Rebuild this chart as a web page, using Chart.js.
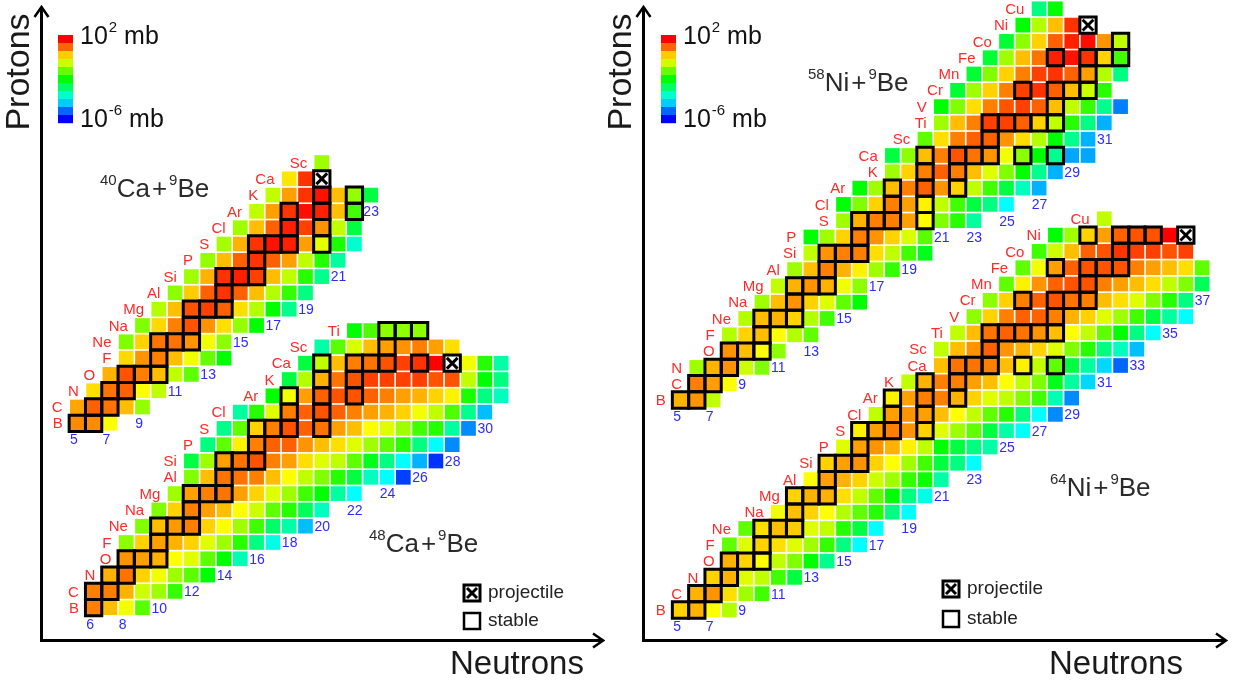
<!DOCTYPE html>
<html><head><meta charset="utf-8">
<script src="https://cdn.jsdelivr.net/npm/chart.js@4.4.1/dist/chart.umd.min.js"></script>
<style>
html,body{margin:0;padding:0;background:#fff;width:1234px;height:681px;overflow:hidden}
#wrap{position:relative;width:1234px;height:681px}
canvas{position:absolute;top:0}
#cL{left:0}
#cR{left:605px}
</style></head>
<body><div id="wrap"><canvas id="cL" width="605" height="681"></canvas><canvas id="cR" width="629" height="681"></canvas></div>
<script>
// ---------------- DATA (log10 of cross-section in mb) ----------------
const SYMBOLS = ['', 'H','He','Li','Be','B','C','N','O','F','Ne','Na','Mg','Al','Si','P','S','Cl','Ar','K','Ca','Sc','Ti','V','Cr','Mn','Fe','Co','Ni','Cu'];

// 40Ca + 9Be
const CA40_TITLE = ['40', 'Ca', '9', 'Be'];
const CA40_FIRST_Z = 5;
const CA40_FIRST_N = [5, 5, 6, 7, 8, 8, 9, 10, 11, 12, 13, 14, 15, 16, 17, 18, 20];
const CA40_LOG_SIGMA = [
  [0.9, 0.9, 0.0],
  [0.7, 1.25, 1.1, 0.5, -0.85],
  [0.25, 1.1, 1.25, 0.0, -0.5],
  [0.6, 1.35, 1.0, 0.5, -0.5, -1.25],
  [0.3, 0.85, 1.0, 0.5, -0.1, -1.2, -2.0],
  [-1.0, 0.35, 1.1, 1.1, 0.85, -0.1, -0.9],
  [-1.0, 0.3, 1.0, 1.35, 0.85, 0.25, -0.85, -2.0],
  [-0.6, 0.5, 1.35, 1.5, 1.25, 0.25, -0.6, -2.0, -3.1],
  [-0.9, 0.4, 1.25, 1.6, 1.25, 0.5, -0.6, -1.6, -3.0],
  [-0.75, 0.6, 1.6, 1.75, 1.5, 0.5, -0.5, -1.7, -3.1],
  [-0.85, 0.5, 1.25, 1.6, 1.25, 0.75, -0.5, -1.7, -3.25],
  [-0.7, 0.6, 1.6, 1.85, 1.75, 0.75, -0.2, -1.8, -3.6],
  [-0.75, 0.5, 1.25, 1.75, 1.5, 0.85, -0.5, -2.5],
  [-0.5, 0.75, 1.6, 1.9, 1.75, 0.5, -1.5],
  [-0.5, 0.75, 1.6, 1.85, 0.5, -0.85, -2.5],
  [0.2, 1.6, 2.0],
  [-0.75]
];
const CA40_STABLE = [[5,5],[5,6],[6,6],[6,7],[7,7],[7,8],[8,8],[8,9],[8,10],[9,10],[10,10],[10,11],[10,12],[11,12],[12,12],[12,13],[12,14],[13,14],[14,14],[14,15],[14,16],[15,16],[16,16],[16,17],[16,18],[16,20],[17,18],[17,20],[18,18],[18,20],[18,22],[19,20],[19,22]];
const CA40_PROJECTILE = [20, 20];
const CA40_N_LABELS = [[5,4],[7,4],[9,5],[11,7],[13,8],[15,10],[17,11],[19,12],[21,14],[23,18]];

// 48Ca + 9Be
const CA48_TITLE = ['48', 'Ca', '9', 'Be'];
const CA48_FIRST_Z = 5;
const CA48_FIRST_N = [6, 6, 7, 8, 8, 9, 10, 11, 12, 12, 13, 14, 15, 17, 18, 19, 20, 22];
const CA48_LOG_SIGMA = [
  [1.0, 0.5, -0.1, -1.3],
  [1.0, 1.0, 0.6, -0.4, -0.75, -1.6],
  [0.6, 1.1, 0.35, -0.1, -0.75, -1.3, -2.0],
  [0.85, 0.75, 0.6, 0.0, -0.25, -1.25, -2.0, -3.4],
  [-0.9, 0.35, 0.75, 0.6, 0.35, -0.25, -0.75, -1.7, -3.0, -3.8],
  [-1.0, 0.5, 0.8, 1.0, 0.35, 0.0, -0.75, -1.5, -2.8, -3.3, -4.5],
  [-1.0, 0.35, 1.0, 0.75, 0.5, 0.0, -0.4, -1.25, -1.7, -2.7, -3.5],
  [-0.75, 0.75, 1.0, 1.1, 0.75, 0.35, -0.25, -0.75, -1.5, -2.0, -3.25, -4.0],
  [-1.0, 0.5, 1.1, 1.1, 1.0, 0.5, 0.0, -0.5, -1.0, -1.7, -2.5, -3.5, -4.0, -5.5],
  [-2.5, -0.75, 0.75, 1.1, 1.35, 1.0, 0.75, 0.25, -0.25, -0.5, -1.25, -2.2, -3.0, -4.0, -4.6, -5.6],
  [-3.0, -1.25, 0.1, 1.0, 1.25, 1.25, 0.85, 0.5, 0.25, -0.25, -0.75, -1.25, -1.7, -3.0, -4.0, -4.9],
  [-3.1, -1.25, 0.35, 1.0, 1.35, 1.25, 1.1, 0.75, 0.5, 0.0, -0.25, -0.75, -1.5, -1.7, -3.25, -4.9],
  [-3.25, -1.7, -0.25, 1.0, 1.25, 1.35, 1.25, 1.0, 0.75, 0.6, 0.35, -0.1, -0.5, -1.4, -3.1, -4.5],
  [-2.0, -0.1, 0.75, 1.25, 1.35, 1.35, 1.25, 1.0, 0.75, 0.6, 0.35, 0.1, -1.8, -3.0, -3.5],
  [-2.5, -0.6, 0.6, 1.1, 1.35, 1.5, 1.5, 1.5, 1.5, 1.35, 1.35, -0.5, -2.0, -3.0],
  [-2.5, -0.5, 0.5, 1.0, 1.1, 1.35, 1.5, 1.6, 2.0, 2.0, -0.1, -1.7, -3.3],
  [-3.3, -1.3, -0.3, 0.5, 0.75, 0.85, 1.0, 0.75, 0.25],
  [-2.0, -1.4, -0.9, -0.9, -0.9]
];
const CA48_STABLE = [[5,6],[6,6],[6,7],[7,7],[7,8],[8,8],[8,9],[8,10],[9,10],[10,10],[10,11],[10,12],[11,12],[12,12],[12,13],[12,14],[13,14],[14,14],[14,15],[14,16],[15,16],[16,16],[16,17],[16,18],[16,20],[17,18],[17,20],[18,18],[18,20],[18,22],[19,20],[19,22],[20,20],[20,22],[20,23],[20,24],[20,26],[21,24],[22,24],[22,25],[22,26]];
const CA48_PROJECTILE = [20, 28];
const CA48_N_LABELS = [[6,4],[8,4],[10,5],[12,6],[14,7],[16,8],[18,9],[20,10],[22,11],[24,12],[26,13],[28,14],[30,16]];

// 58Ni + 9Be
const NI58_TITLE = ['58', 'Ni', '9', 'Be'];
const NI58_FIRST_Z = 5;
const NI58_FIRST_N = [5, 6, 6, 8, 8, 9, 10, 11, 12, 13, 13, 15, 15, 16, 18, 18, 20, 21, 21, 22, 23, 24, 25, 26, 27];
const NI58_LOG_SIGMA = [
  [0.6, 0.85, -0.5],
  [1.0, 0.75, 0.0],
  [-0.75, 0.6, 0.85, -0.4, -1.0],
  [0.85, 0.5, 0.0, -0.9],
  [-0.6, 0.35, 0.5, 0.0, -0.6, -1.25],
  [-0.6, 0.5, 0.6, 0.35, -0.6, -1.5],
  [-0.75, 0.5, 0.85, 0.35, -0.25, -1.25, -2.0],
  [-0.5, 0.6, 0.85, 0.6, -0.1, -0.9],
  [-0.75, 0.5, 1.0, 0.6, 0.1, -0.75, -1.6],
  [-0.5, 0.85, 1.0, 1.0, 0.25, -0.5, -1.5, -2.2],
  [-2.0, -0.75, 0.35, 1.0, 0.85, 0.35, -0.3, -1.3],
  [-0.75, 0.6, 1.0, 1.0, 0.75, 0.0, -1.0, -1.7, -3.25],
  [-2.0, -1.0, 0.35, 1.0, 0.75, 0.1, -0.5, -1.5, -2.5, -3.0, -4.0],
  [-2.0, -0.75, 0.5, 1.0, 1.25, 0.85, 0.35, -0.5, -1.5, -2.5, -3.5, -4.6],
  [-0.75, 0.35, 1.0, 1.25, 1.0, 0.5, -0.25, -1.0, -2.0, -3.1, -4.6],
  [-2.5, -0.9, 0.5, 1.0, 1.35, 1.1, 0.85, -0.1, -0.9, -2.0, -3.1, -4.7, -4.7],
  [-1.25, 0.25, 1.0, 1.25, 1.25, 0.85, 0.25, -0.6, -2.0, -3.1, -4.6],
  [-0.75, 0.5, 1.0, 1.5, 1.5, 1.25, 0.35, -0.5, -1.7, -3.0, -4.6],
  [-2.0, -1.0, 0.25, 1.0, 1.35, 1.5, 1.25, 0.5, -0.5, -1.6, -3.1, -5.0],
  [-2.4, -0.75, 0.35, 1.0, 1.5, 1.6, 1.25, 0.5, -0.4, -1.7],
  [-2.4, -1.0, 0.35, 1.0, 1.5, 1.6, 1.25, 0.75, -0.6, -3.0],
  [-2.4, -0.75, 0.5, 1.1, 1.75, 1.85, 1.6, 0.35, -1.5],
  [-2.4, -0.9, 0.35, 1.25, 1.75, 1.9, 0.85, -0.5],
  [-2.0, -0.6, 0.5, 1.6, 2.0],
  [-3.0, -2.0]
];
const NI58_STABLE = [[5,5],[5,6],[6,6],[6,7],[7,7],[7,8],[8,8],[8,9],[8,10],[9,10],[10,10],[10,11],[10,12],[11,12],[12,12],[12,13],[12,14],[13,14],[14,14],[14,15],[14,16],[15,16],[16,16],[16,17],[16,18],[16,20],[17,18],[17,20],[18,18],[18,20],[18,22],[19,20],[19,22],[20,20],[20,22],[20,23],[20,24],[20,26],[20,28],[21,24],[22,24],[22,25],[22,26],[22,27],[22,28],[23,28],[24,26],[24,28],[24,29],[24,30],[25,30],[26,28],[26,30],[26,31],[26,32],[27,32]];
const NI58_PROJECTILE = [28, 30];
const NI58_N_LABELS = [[5,4],[7,4],[9,6],[11,7],[13,8],[15,10],[17,12],[19,13],[21,15],[23,15],[25,16],[27,17],[29,19],[31,21]];

// 64Ni + 9Be
const NI64_TITLE = ['64', 'Ni', '9', 'Be'];
const NI64_FIRST_Z = 5;
const NI64_FIRST_N = [5, 6, 7, 8, 8, 9, 11, 12, 13, 14, 15, 16, 17, 18, 19, 21, 21, 22, 23, 24, 25, 26, 27, 28, 31];
const NI64_LOG_SIGMA = [
  [0.35, 0.6, 0.0, -0.6],
  [0.6, 0.85, 0.25, -0.75, -1.5],
  [0.35, 0.6, -0.25, -0.5, -1.5, -2.5],
  [0.6, 0.35, 0.0, -0.5, -1.0, -2.0, -3.1],
  [-1.25, -0.25, 0.35, 0.25, -0.25, -0.75, -1.6, -3.0, -4.0],
  [-1.25, 0.25, 0.5, 0.4, -0.25, -0.5, -1.7, -2.5, -4.0],
  [-0.1, 0.5, 0.35, 0.0, -0.6, -1.25, -1.7, -3.0, -4.0],
  [0.35, 0.6, 0.6, 0.25, -0.5, -1.25, -2.0, -3.0, -3.8],
  [0.0, 0.75, 0.6, 0.35, -0.4, -0.75, -1.6, -1.9, -3.3],
  [0.35, 0.75, 0.85, 0.35, 0.0, -0.75, -1.5, -2.5, -3.0, -4.0],
  [-0.25, 0.75, 0.85, 0.6, 0.1, -0.5, -2.0, -2.5, -3.0, -3.3],
  [0.1, 0.75, 1.0, 0.85, 0.35, -0.25, -0.75, -1.25, -2.5, -3.3, -4.0],
  [-0.5, 0.75, 0.85, 0.75, 0.5, 0.0, -0.5, -1.25, -1.7, -3.0, -4.0, -4.9],
  [0.1, 0.75, 1.0, 1.0, 0.6, 0.35, -0.25, -0.5, -1.0, -1.5, -3.4, -4.9],
  [-0.5, 0.6, 1.0, 1.0, 0.75, 0.5, 0.0, -0.5, -1.0, -2.2, -3.25, -4.3],
  [0.5, 1.1, 1.1, 1.0, 0.5, 0.1, -0.5, -1.25, -2.5, -3.25, -4.3, -5.2],
  [-0.5, 0.5, 0.85, 1.25, 0.85, 0.6, 0.35, -0.25, -1.0, -1.7, -3.0, -3.5, -4.5],
  [-0.5, 0.5, 1.1, 1.25, 1.1, 0.85, 0.5, 0.0, -0.5, -1.25, -2.0, -3.0, -4.0],
  [-0.9, 0.35, 1.0, 1.25, 1.25, 1.0, 0.6, 0.35, -0.25, -0.75, -1.5, -2.5, -3.25, -4.0],
  [-0.9, 0.35, 1.0, 1.25, 1.35, 1.1, 1.0, 0.5, 0.25, -0.25, -1.0, -1.7, -3.0],
  [-1.25, 0.1, 0.85, 1.25, 1.35, 1.35, 1.0, 0.75, 0.5, 0.25, -0.5, -1.0, -2.7],
  [-1.25, -0.1, 0.75, 1.25, 1.35, 1.35, 1.35, 1.0, 0.75, 0.5, 0.25, -1.25],
  [-1.5, -0.4, 0.5, 1.25, 1.35, 1.6, 1.5, 1.5, 1.35, 1.5],
  [-2.0, -0.75, 0.35, 0.75, 1.25, 1.35, 1.35, 2.0, 2.0],
  [-0.5]
];
const NI64_STABLE = [[5,5],[5,6],[6,6],[6,7],[7,7],[7,8],[8,8],[8,9],[8,10],[9,10],[10,10],[10,11],[10,12],[11,12],[12,12],[12,13],[12,14],[13,14],[14,14],[14,15],[14,16],[15,16],[16,16],[16,17],[16,18],[16,20],[17,18],[17,20],[18,18],[18,20],[18,22],[19,20],[19,22],[20,22],[20,23],[20,24],[20,26],[20,28],[21,24],[22,24],[22,25],[22,26],[22,27],[22,28],[23,28],[24,26],[24,28],[24,29],[24,30],[25,30],[26,28],[26,30],[26,31],[26,32],[27,32],[28,30],[28,32],[28,33],[28,34]];
const NI64_PROJECTILE = [28, 36];
const NI64_N_LABELS = [[5,4],[7,4],[9,5],[11,6],[13,7],[15,8],[17,9],[19,10],[21,12],[23,13],[25,15],[27,16],[29,17],[31,19],[33,20],[35,22],[37,24]];

// colour scale: 10^2 mb (red) ... 10^-6 mb (blue)
const SCALE_MAX_LOG = 2;
const SCALE_MIN_LOG = -6;
const LEGEND_STEPS = 11;

// ---------------- LAYOUT ----------------
const PITCH = 16.3;
const FONT = '"Liberation Sans", Arial, sans-serif';

function colorFor(v) {
  const t = (SCALE_MAX_LOG - v) / (SCALE_MAX_LOG - SCALE_MIN_LOG);
  const h = Math.max(0, Math.min(240, t * 240));
  return 'hsl(' + h.toFixed(1) + ',100%,50%)';
}

function reaction(title, firstZ, firstN, logSigma, stable, projectile, nLabels, yId) {
  return { title, firstZ, firstN, logSigma, stable, projectile, nLabels, yId };
}

function makeDatasets(r) {
  const cells = [];
  r.firstN.forEach((n0, i) => {
    const z = r.firstZ + i;
    r.logSigma[i].forEach((v, j) => cells.push({ x: n0 + j, y: z, v: v }));
  });
  const stable = r.stable.map(([z, n]) => ({ x: n, y: z }));
  const proj = [{ x: r.projectile[1], y: r.projectile[0] }];
  const base = { xAxisID: 'x', yAxisID: r.yId, clip: false };
  const cellSide = PITCH - 1.6;
  return [
    Object.assign({}, base, { label: r.title.join(' '), data: cells, order: 3, pointStyle: 'rect',
      pointRadius: cellSide / Math.SQRT2, pointHoverRadius: cellSide / Math.SQRT2, pointBorderWidth: 0,
      pointBackgroundColor: (c) => colorFor(c.raw.v) }),
    Object.assign({}, base, { label: 'stable', data: stable, order: 2, pointStyle: 'rect',
      pointRadius: PITCH / Math.SQRT2, pointHoverRadius: PITCH / Math.SQRT2, pointBackgroundColor: 'rgba(0,0,0,0)',
      pointBorderColor: '#000', pointBorderWidth: 3 }),
    Object.assign({}, base, { label: 'projectile', data: proj, order: 1, pointStyle: 'rect',
      pointRadius: PITCH / Math.SQRT2, pointHoverRadius: PITCH / Math.SQRT2, pointBackgroundColor: '#fff',
      pointBorderColor: '#000', pointBorderWidth: 3 }),
    Object.assign({}, base, { label: 'projectile mark', data: proj, order: 0, pointStyle: 'crossRot',
      pointRadius: 7.6, pointHoverRadius: 7.6, pointBorderColor: '#000', pointBorderWidth: 3 })
  ];
}

const textPlugin = {
  id: 'nuclideText',
  afterDatasetsDraw(chart, args, opts) {
    const ctx = chart.ctx, xs = chart.scales.x;
    ctx.save();
    opts.reactions.forEach(r => {
      const ys = chart.scales[r.yId];
      ctx.font = '15px ' + FONT; ctx.fillStyle = '#ff2a2a'; ctx.textAlign = 'right'; ctx.textBaseline = 'middle';
      r.firstN.forEach((n0, i) => {
        const z = r.firstZ + i;
        ctx.fillText(SYMBOLS[z], xs.getPixelForValue(n0 - 0.9), ys.getPixelForValue(z) + 1);
      });
      ctx.font = '14px ' + FONT; ctx.fillStyle = '#2b2bff'; ctx.textAlign = 'left';
      r.nLabels.forEach(([n, z]) => ctx.fillText(String(n), xs.getPixelForValue(n - 0.45), ys.getPixelForValue(z) + 1));
    });
    ctx.restore();
  },
  afterDraw(chart, args, opts) {
    const ctx = chart.ctx, d = opts.decor;
    ctx.save();
    ctx.strokeStyle = '#000'; ctx.fillStyle = '#000'; ctx.lineCap = 'butt';
    // axes with open arrowheads
    ctx.lineWidth = 3;
    ctx.beginPath(); ctx.moveTo(d.axisX, d.axisY + 1.5); ctx.lineTo(d.axisX, d.yTop); ctx.stroke();
    ctx.beginPath(); ctx.moveTo(d.axisX - 1.5, d.axisY); ctx.lineTo(d.xRight, d.axisY); ctx.stroke();
    ctx.lineWidth = 2.5;
    ctx.beginPath(); ctx.moveTo(d.axisX - 7, d.yTop + 10); ctx.lineTo(d.axisX, d.yTop); ctx.lineTo(d.axisX + 7, d.yTop + 10); ctx.stroke();
    ctx.beginPath(); ctx.moveTo(d.xRight - 10, d.axisY - 7); ctx.lineTo(d.xRight, d.axisY); ctx.lineTo(d.xRight - 10, d.axisY + 7); ctx.stroke();
    // axis titles
    ctx.fillStyle = '#1a1a1a';
    ctx.font = '33px ' + FONT; ctx.textBaseline = 'alphabetic';
    ctx.textAlign = 'left'; ctx.fillText('Neutrons', d.neutronsX, 674);
    ctx.save(); ctx.translate(d.protonsX, 72); ctx.rotate(-Math.PI / 2);
    ctx.font = '34px ' + FONT;
    ctx.textAlign = 'center'; ctx.textBaseline = 'middle'; ctx.fillText('Protons', 0, 0); ctx.restore();
    // colour bar
    for (let k = 0; k < LEGEND_STEPS; k++) {
      const v = SCALE_MAX_LOG - k * (SCALE_MAX_LOG - SCALE_MIN_LOG) / (LEGEND_STEPS - 1);
      ctx.fillStyle = colorFor(v);
      ctx.fillRect(d.barX, 35 + k * 8, 15, 8.2);
    }
    ctx.fillStyle = '#111'; ctx.textAlign = 'left'; ctx.textBaseline = 'alphabetic';
    const powLabel = (x, y, exp) => {
      ctx.font = '25px ' + FONT; ctx.fillText('10', x, y);
      let w = ctx.measureText('10').width;
      ctx.font = '15px ' + FONT; ctx.fillText(exp, x + w + 1, y - 12);
      w += ctx.measureText(exp).width + 1;
      ctx.font = '25px ' + FONT; ctx.fillText(' mb', x + w, y);
    };
    powLabel(d.barX + 22, 44, String(SCALE_MAX_LOG));
    powLabel(d.barX + 22, 127, String(SCALE_MIN_LOG));
    // reaction titles
    ctx.fillStyle = '#2a2a2a';
    d.titles.forEach(t => {
      let x = t.x;
      const parts = [[t.text[0], 15, -12, 0], [t.text[1], 26, 0, 2], ['+', 26, 0, 2], [t.text[2], 15, -12, 0], [t.text[3], 26, 0, 0]];
      parts.forEach(([s, size, dy, gap]) => {
        ctx.font = size + 'px ' + FONT; ctx.fillText(s, x, t.y + dy);
        x += ctx.measureText(s).width + gap;
      });
    });
    // projectile / stable legend
    const lx = d.legendX;
    ctx.lineWidth = 3; ctx.strokeStyle = '#000';
    ctx.fillStyle = '#fff'; ctx.fillRect(lx, d.legY1 - 8, 16, 16); ctx.strokeRect(lx, d.legY1 - 8, 16, 16);
    ctx.beginPath(); ctx.moveTo(lx + 3, d.legY1 - 5); ctx.lineTo(lx + 13, d.legY1 + 5);
    ctx.moveTo(lx + 13, d.legY1 - 5); ctx.lineTo(lx + 3, d.legY1 + 5); ctx.stroke();
    ctx.lineWidth = 2.5; ctx.strokeRect(lx, d.legY2 - 8, 16, 16);
    ctx.fillStyle = '#222'; ctx.font = '19px ' + FONT; ctx.textBaseline = 'middle';
    ctx.fillText('projectile', lx + 24, d.legY1);
    ctx.fillText('stable', lx + 24, d.legY2);
    ctx.restore();
  }
};

function makeChart(canvasId, width, height, n5X, reactions, z5Y, decor) {
  const datasets = [];
  reactions.forEach(r => datasets.push(...makeDatasets(r)));
  const xMin = 5 - n5X / PITCH;
  const scales = {
    x: { type: 'linear', axis: 'x', display: false, min: xMin, max: xMin + width / PITCH }
  };
  reactions.forEach((r, i) => {
    const yMax = 5 + z5Y[i] / PITCH;
    scales[r.yId] = { type: 'linear', axis: 'y', display: false, min: yMax - height / PITCH, max: yMax };
  });
  return new Chart(document.getElementById(canvasId), {
    type: 'scatter',
    data: { datasets },
    options: {
      responsive: false, animation: false, events: [], devicePixelRatio: 1,
      layout: { padding: 0, autoPadding: false },
      scales,
      plugins: {
        legend: { display: false }, tooltip: { enabled: false }, title: { display: false },
        nuclideText: { reactions, decor }
      }
    },
    plugins: [textPlugin]
  });
}

const ca40 = reaction(CA40_TITLE, CA40_FIRST_Z, CA40_FIRST_N, CA40_LOG_SIGMA, CA40_STABLE, CA40_PROJECTILE, CA40_N_LABELS, 'yA');
const ca48 = reaction(CA48_TITLE, CA48_FIRST_Z, CA48_FIRST_N, CA48_LOG_SIGMA, CA48_STABLE, CA48_PROJECTILE, CA48_N_LABELS, 'yB');
const ni58 = reaction(NI58_TITLE, NI58_FIRST_Z, NI58_FIRST_N, NI58_LOG_SIGMA, NI58_STABLE, NI58_PROJECTILE, NI58_N_LABELS, 'yA');
const ni64 = reaction(NI64_TITLE, NI64_FIRST_Z, NI64_FIRST_N, NI64_LOG_SIGMA, NI64_STABLE, NI64_PROJECTILE, NI64_N_LABELS, 'yB');

makeChart('cL', 605, 681, 77.3, [ca40, ca48], [423.3, 607.7], {
  axisX: 41.5, axisY: 640.5, yTop: 7, xRight: 603, protonsX: 20, neutronsX: 450,
  barX: 58, legendX: 464, legY1: 593, legY2: 621,
  titles: [{ text: CA40_TITLE, x: 100, y: 197 }, { text: CA48_TITLE, x: 369, y: 552 }]
});
makeChart('cR', 629, 681, 75.5, [ni58, ni64], [400, 610], {
  axisX: 38.5, axisY: 640.5, yTop: 7, xRight: 621, protonsX: 17, neutronsX: 444,
  barX: 56, legendX: 338, legY1: 589, legY2: 619,
  titles: [{ text: NI58_TITLE, x: 203, y: 91 }, { text: NI64_TITLE, x: 445, y: 496 }]
});
</script>
</body></html>
